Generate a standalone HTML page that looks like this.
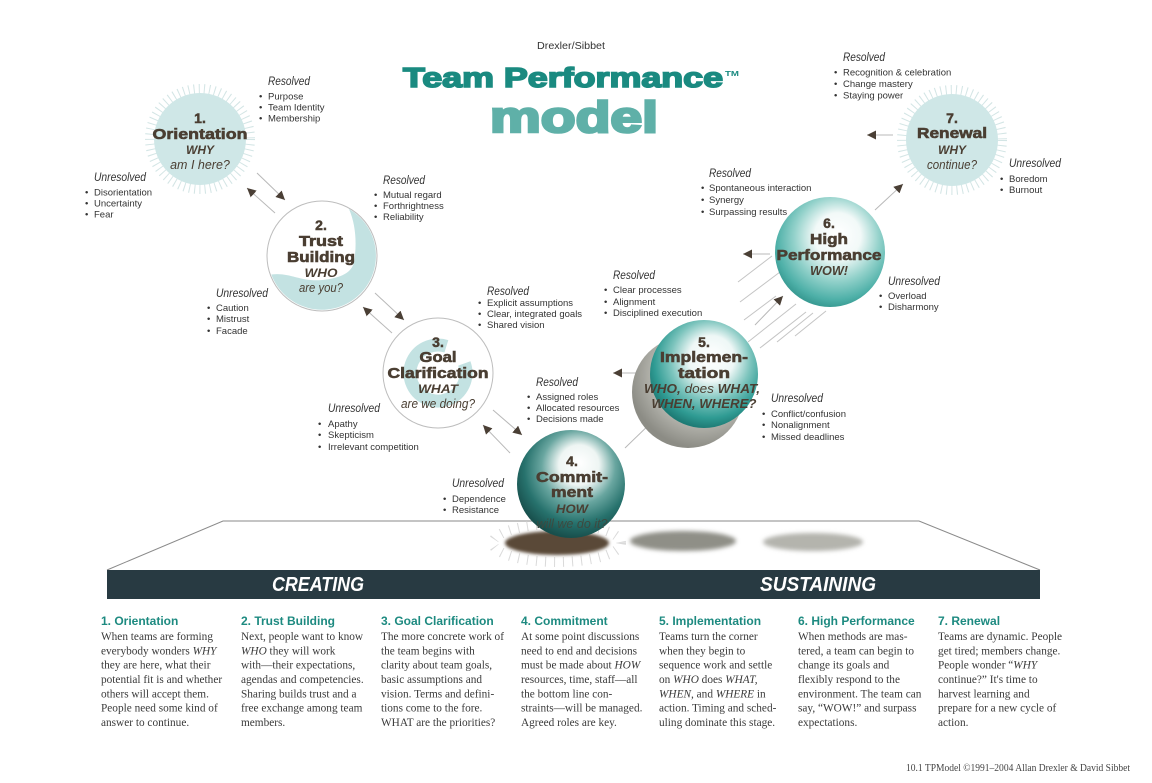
<!DOCTYPE html>
<html><head><meta charset="utf-8"><style>
html,body{margin:0;padding:0;background:#fff;}
svg{display:block}
</style></head><body>
<svg width="1152" height="783" viewBox="0 0 1152 783" xmlns="http://www.w3.org/2000/svg" font-family="'Liberation Sans', sans-serif">
<defs>
 <marker id="ah" markerWidth="9" markerHeight="9" refX="9" refY="4.5" orient="auto" markerUnits="userSpaceOnUse">
  <path d="M0,0 L9,4.5 L0,9 z" fill="#4a3f35"/>
 </marker>
 <radialGradient id="gC" cx="0.56" cy="0.38" r="0.62" fx="0.58" fy="0.3">
  <stop offset="0" stop-color="#ffffff"/>
  <stop offset="0.3" stop-color="#eef5f3"/>
  <stop offset="0.55" stop-color="#69a6a0"/>
  <stop offset="0.8" stop-color="#27726d"/>
  <stop offset="1" stop-color="#184f4c"/>
 </radialGradient>
 <radialGradient id="gI" cx="0.55" cy="0.4" r="0.6" fx="0.58" fy="0.33">
  <stop offset="0" stop-color="#ffffff"/>
  <stop offset="0.35" stop-color="#eef7f6"/>
  <stop offset="0.62" stop-color="#7cc4bd"/>
  <stop offset="0.86" stop-color="#2f9b93"/>
  <stop offset="1" stop-color="#1e7b75"/>
 </radialGradient>
 <radialGradient id="gH" cx="0.55" cy="0.4" r="0.6" fx="0.58" fy="0.33">
  <stop offset="0" stop-color="#ffffff"/>
  <stop offset="0.35" stop-color="#f2f9f8"/>
  <stop offset="0.65" stop-color="#92d1ca"/>
  <stop offset="0.9" stop-color="#4eb0a8"/>
  <stop offset="1" stop-color="#3a9c94"/>
 </radialGradient>
 <radialGradient id="gS" cx="0.62" cy="0.35" r="0.65">
  <stop offset="0" stop-color="#f2f2ee"/>
  <stop offset="0.5" stop-color="#c9c9c2"/>
  <stop offset="1" stop-color="#8c8c85"/>
 </radialGradient>
 <filter id="bl" x="-20%" y="-50%" width="140%" height="200%"><feGaussianBlur stdDeviation="1.6"/></filter>
 <filter id="bl2" x="-20%" y="-50%" width="140%" height="200%"><feGaussianBlur stdDeviation="2.2"/></filter>
</defs>

<!-- Title -->
<text x="571" y="49" font-size="10.5" fill="#333" text-anchor="middle" textLength="68" lengthAdjust="spacingAndGlyphs">Drexler/Sibbet</text>
<text x="403" y="87" font-size="28" font-weight="bold" fill="#1a8a80" stroke="#1a8a80" stroke-width="1.6" textLength="320" lengthAdjust="spacingAndGlyphs">Team Performance</text>
<text x="725" y="76" font-size="7.5" font-weight="bold" fill="#1a8a80" textLength="14" lengthAdjust="spacingAndGlyphs">TM</text>
<text x="490" y="132" font-size="44" font-weight="bold" fill="#5fb0a8" stroke="#5fb0a8" stroke-width="2.6" textLength="168" lengthAdjust="spacingAndGlyphs">model</text>

<!-- Platform -->
<polyline points="107,570 223,521 919,521 1040,570" fill="none" stroke="#8a8a8a" stroke-width="1"/>
<rect x="107" y="570" width="933" height="29" fill="#283a42"/>
<text x="318" y="591" font-size="20" font-weight="bold" font-style="italic" fill="#fff" text-anchor="middle" textLength="92" lengthAdjust="spacingAndGlyphs">CREATING</text>
<text x="818" y="591" font-size="20" font-weight="bold" font-style="italic" fill="#fff" text-anchor="middle" textLength="116" lengthAdjust="spacingAndGlyphs">SUSTAINING</text>

<!-- shadows on platform -->
<ellipse cx="557" cy="543" rx="64" ry="19" fill="none" stroke="#dadada" stroke-width="10" stroke-dasharray="1 8"/>
<ellipse cx="557" cy="543" rx="52" ry="12" fill="#5a4838" filter="url(#bl)"/>
<ellipse cx="683" cy="541" rx="53" ry="10" fill="#8f8f87" filter="url(#bl2)"/>
<ellipse cx="813" cy="542" rx="50" ry="9" fill="#b4b4ad" filter="url(#bl2)"/>

<!-- speed lines -->
<g stroke="#c4c4c4" stroke-width="1">
 <line x1="738" y1="282" x2="772" y2="256"/>
 <line x1="740" y1="302" x2="780" y2="272"/>
 <line x1="744" y1="320" x2="776" y2="296"/>
 <line x1="748" y1="342" x2="796" y2="304"/>
 <line x1="760" y1="348" x2="806" y2="312"/>
 <line x1="777" y1="342" x2="813" y2="313"/>
 <line x1="795" y1="336" x2="826" y2="311"/>
</g>

<!-- arrows -->
<g stroke="#b8b8b8" stroke-width="1" marker-end="url(#ah)">
 <line x1="257" y1="173" x2="285" y2="200"/>
 <line x1="275" y1="213" x2="247" y2="188"/>
 <line x1="375" y1="293" x2="404" y2="320"/>
 <line x1="392" y1="333" x2="363" y2="307"/>
 <line x1="493" y1="410" x2="522" y2="435"/>
 <line x1="510" y1="453" x2="483" y2="425"/>
 <line x1="625" y1="448" x2="655" y2="419"/>
 <line x1="642" y1="373" x2="613" y2="373"/>
 <line x1="755" y1="325" x2="783" y2="296"/>
 <line x1="770" y1="254" x2="743" y2="254"/>
 <line x1="875" y1="210" x2="903" y2="184"/>
 <line x1="893" y1="135" x2="867" y2="135"/>
</g>

<!-- 1 Orientation -->
<circle cx="200" cy="139" r="50" fill="none" stroke="#d3e5e5" stroke-width="10" stroke-dasharray="1 4.2"/>
<circle cx="200" cy="139" r="46" fill="#cfe7e7"/>
<g fill="#4a3e32" text-anchor="middle" font-weight="bold">
 <text x="200" y="123" font-size="14" stroke="#4a3e32" stroke-width="0.5">1.</text>
 <text x="200" y="139" font-size="15" stroke="#4a3e32" stroke-width="0.6" textLength="95" lengthAdjust="spacingAndGlyphs">Orientation</text>
 <text x="200" y="154" font-size="12" font-style="italic">WHY</text>
 <text x="200" y="169" font-size="12.5" font-style="italic" font-weight="normal">am I here?</text>
</g>

<!-- 2 Trust -->
<circle cx="322" cy="256" r="55" fill="#fff" stroke="#bdbdbd" stroke-width="1"/>
<path d="M349,209 A54,54 0 1,1 271.3,274.5 C290,272 300,282 322,280 C342,278 352,272 354,262 C357,245 356,225 349,209 Z" fill="#c3e2e2"/>
<g fill="#4a3e32" text-anchor="middle" font-weight="bold">
 <text x="321" y="230" font-size="14" stroke="#4a3e32" stroke-width="0.5">2.</text>
 <text x="321" y="246" font-size="15" stroke="#4a3e32" stroke-width="0.6" textLength="44" lengthAdjust="spacingAndGlyphs">Trust</text>
 <text x="321" y="262" font-size="15" stroke="#4a3e32" stroke-width="0.6" textLength="68" lengthAdjust="spacingAndGlyphs">Building</text>
 <text x="321" y="277" font-size="12" font-style="italic" textLength="33" lengthAdjust="spacingAndGlyphs">WHO</text>
 <text x="321" y="292" font-size="13" font-style="italic" font-weight="normal" textLength="44" lengthAdjust="spacingAndGlyphs">are you?</text>
</g>

<!-- 3 Goal -->
<circle cx="438" cy="373" r="55" fill="#fff" stroke="#bdbdbd" stroke-width="1"/>
<circle cx="438" cy="373" r="28" fill="none" stroke="#c3e2e2" stroke-width="13" stroke-dasharray="150 26" transform="rotate(-20 438 373)"/>
<g fill="#4a3e32" text-anchor="middle" font-weight="bold">
 <text x="438" y="347" font-size="14" stroke="#4a3e32" stroke-width="0.5">3.</text>
 <text x="438" y="362" font-size="15" stroke="#4a3e32" stroke-width="0.6" textLength="37" lengthAdjust="spacingAndGlyphs">Goal</text>
 <text x="438" y="378" font-size="15" stroke="#4a3e32" stroke-width="0.6" textLength="101" lengthAdjust="spacingAndGlyphs">Clarification</text>
 <text x="438" y="393" font-size="12" font-style="italic" textLength="40" lengthAdjust="spacingAndGlyphs">WHAT</text>
 <text x="438" y="408" font-size="13" font-style="italic" font-weight="normal" textLength="74" lengthAdjust="spacingAndGlyphs">are we doing?</text>
</g>

<!-- 4 Commitment -->
<circle cx="571" cy="484" r="54" fill="url(#gC)"/>
<g fill="#4a3e32" text-anchor="middle" font-weight="bold">
 <text x="572" y="466" font-size="14" stroke="#4a3e32" stroke-width="0.5">4.</text>
 <text x="572" y="482" font-size="15" stroke="#4a3e32" stroke-width="0.6" textLength="72" lengthAdjust="spacingAndGlyphs">Commit-</text>
 <text x="572" y="497" font-size="15" stroke="#4a3e32" stroke-width="0.6" textLength="42" lengthAdjust="spacingAndGlyphs">ment</text>
 <text x="572" y="513" font-size="12" font-style="italic" textLength="32" lengthAdjust="spacingAndGlyphs">HOW</text>
 <text x="572" y="528" font-size="13" font-style="italic" font-weight="normal" fill="#3d4a40" textLength="71" lengthAdjust="spacingAndGlyphs">will we do it?</text>
</g>

<!-- 5 Implementation -->
<circle cx="688" cy="392" r="56" fill="url(#gS)"/>
<circle cx="704" cy="374" r="54" fill="url(#gI)"/>
<g fill="#4a3e32" text-anchor="middle" font-weight="bold">
 <text x="704" y="347" font-size="14" stroke="#4a3e32" stroke-width="0.5">5.</text>
 <text x="704" y="362" font-size="15" stroke="#4a3e32" stroke-width="0.6" textLength="88" lengthAdjust="spacingAndGlyphs">Implemen-</text>
 <text x="704" y="378" font-size="15" stroke="#4a3e32" stroke-width="0.6" textLength="52" lengthAdjust="spacingAndGlyphs">tation</text>
 <text x="702" y="393" font-size="12.5" font-style="italic" textLength="116" lengthAdjust="spacingAndGlyphs">WHO,<tspan font-weight="normal"> does </tspan>WHAT,</text>
 <text x="704" y="408" font-size="12.5" font-style="italic" textLength="105" lengthAdjust="spacingAndGlyphs">WHEN, WHERE?</text>
</g>

<!-- 6 High Performance -->
<circle cx="830" cy="252" r="55" fill="url(#gH)"/>
<g fill="#4a3e32" text-anchor="middle" font-weight="bold">
 <text x="829" y="228" font-size="14" stroke="#4a3e32" stroke-width="0.5">6.</text>
 <text x="829" y="244" font-size="15" stroke="#4a3e32" stroke-width="0.6" textLength="38" lengthAdjust="spacingAndGlyphs">High</text>
 <text x="829" y="260" font-size="15" stroke="#4a3e32" stroke-width="0.6" textLength="105" lengthAdjust="spacingAndGlyphs">Performance</text>
 <text x="829" y="275" font-size="12.5" font-style="italic" textLength="38" lengthAdjust="spacingAndGlyphs">WOW!</text>
</g>

<!-- 7 Renewal -->
<circle cx="952" cy="140" r="50" fill="none" stroke="#d3e5e5" stroke-width="10" stroke-dasharray="1 4.2"/>
<circle cx="952" cy="140" r="46" fill="#cfe7e7"/>
<g fill="#4a3e32" text-anchor="middle" font-weight="bold">
 <text x="952" y="123" font-size="14" stroke="#4a3e32" stroke-width="0.5">7.</text>
 <text x="952" y="138" font-size="15" stroke="#4a3e32" stroke-width="0.6" textLength="70" lengthAdjust="spacingAndGlyphs">Renewal</text>
 <text x="952" y="154" font-size="12" font-style="italic">WHY</text>
 <text x="952" y="169" font-size="12.5" font-style="italic" font-weight="normal" textLength="50" lengthAdjust="spacingAndGlyphs">continue?</text>
</g>

<!-- Resolved / Unresolved lists -->
<g fill="#333" font-size="9.5">
 <text x="268" y="85" font-size="11.5" font-style="italic" textLength="42" lengthAdjust="spacingAndGlyphs">Resolved</text>
 <text x="259" y="99.5">•</text><text x="268" y="99.5">Purpose</text>
 <text x="259" y="110.5">•</text><text x="268" y="110.5">Team Identity</text>
 <text x="259" y="121.5">•</text><text x="268" y="121.5">Membership</text>
 <text x="94" y="181" font-size="11.5" font-style="italic" textLength="52" lengthAdjust="spacingAndGlyphs">Unresolved</text>
 <text x="85" y="195.5">•</text><text x="94" y="195.5">Disorientation</text>
 <text x="85" y="206.5">•</text><text x="94" y="206.5">Uncertainty</text>
 <text x="85" y="217.5">•</text><text x="94" y="217.5">Fear</text>

 <text x="383" y="184" font-size="11.5" font-style="italic" textLength="42" lengthAdjust="spacingAndGlyphs">Resolved</text>
 <text x="374" y="198">•</text><text x="383" y="198">Mutual regard</text>
 <text x="374" y="209">•</text><text x="383" y="209">Forthrightness</text>
 <text x="374" y="220">•</text><text x="383" y="220">Reliability</text>
 <text x="216" y="297" font-size="11.5" font-style="italic" textLength="52" lengthAdjust="spacingAndGlyphs">Unresolved</text>
 <text x="207" y="311">•</text><text x="216" y="311">Caution</text>
 <text x="207" y="322">•</text><text x="216" y="322">Mistrust</text>
 <text x="207" y="334">•</text><text x="216" y="334">Facade</text>

 <text x="487" y="295" font-size="11.5" font-style="italic" textLength="42" lengthAdjust="spacingAndGlyphs">Resolved</text>
 <text x="478" y="306">•</text><text x="487" y="306">Explicit assumptions</text>
 <text x="478" y="317">•</text><text x="487" y="317">Clear, integrated goals</text>
 <text x="478" y="328">•</text><text x="487" y="328">Shared vision</text>
 <text x="328" y="412" font-size="11.5" font-style="italic" textLength="52" lengthAdjust="spacingAndGlyphs">Unresolved</text>
 <text x="318" y="427">•</text><text x="328" y="427">Apathy</text>
 <text x="318" y="438">•</text><text x="328" y="438">Skepticism</text>
 <text x="318" y="450">•</text><text x="328" y="450">Irrelevant competition</text>

 <text x="536" y="386" font-size="11.5" font-style="italic" textLength="42" lengthAdjust="spacingAndGlyphs">Resolved</text>
 <text x="527" y="400">•</text><text x="536" y="400">Assigned roles</text>
 <text x="527" y="411">•</text><text x="536" y="411">Allocated resources</text>
 <text x="527" y="422">•</text><text x="536" y="422">Decisions made</text>
 <text x="452" y="487" font-size="11.5" font-style="italic" textLength="52" lengthAdjust="spacingAndGlyphs">Unresolved</text>
 <text x="443" y="502">•</text><text x="452" y="502">Dependence</text>
 <text x="443" y="513">•</text><text x="452" y="513">Resistance</text>

 <text x="613" y="279" font-size="11.5" font-style="italic" textLength="42" lengthAdjust="spacingAndGlyphs">Resolved</text>
 <text x="604" y="293">•</text><text x="613" y="293">Clear processes</text>
 <text x="604" y="305">•</text><text x="613" y="305">Alignment</text>
 <text x="604" y="316">•</text><text x="613" y="316">Disciplined execution</text>
 <text x="771" y="402" font-size="11.5" font-style="italic" textLength="52" lengthAdjust="spacingAndGlyphs">Unresolved</text>
 <text x="762" y="417">•</text><text x="771" y="417">Conflict/confusion</text>
 <text x="762" y="428">•</text><text x="771" y="428">Nonalignment</text>
 <text x="762" y="440">•</text><text x="771" y="440">Missed deadlines</text>

 <text x="709" y="177" font-size="11.5" font-style="italic" textLength="42" lengthAdjust="spacingAndGlyphs">Resolved</text>
 <text x="701" y="191">•</text><text x="709" y="191">Spontaneous interaction</text>
 <text x="701" y="203">•</text><text x="709" y="203">Synergy</text>
 <text x="701" y="215">•</text><text x="709" y="215">Surpassing results</text>
 <text x="888" y="285" font-size="11.5" font-style="italic" textLength="52" lengthAdjust="spacingAndGlyphs">Unresolved</text>
 <text x="879" y="299">•</text><text x="888" y="299">Overload</text>
 <text x="879" y="310">•</text><text x="888" y="310">Disharmony</text>

 <text x="843" y="61" font-size="11.5" font-style="italic" textLength="42" lengthAdjust="spacingAndGlyphs">Resolved</text>
 <text x="834" y="75.5">•</text><text x="843" y="75.5">Recognition &amp; celebration</text>
 <text x="834" y="87">•</text><text x="843" y="87">Change mastery</text>
 <text x="834" y="98.5">•</text><text x="843" y="98.5">Staying power</text>
 <text x="1009" y="167" font-size="11.5" font-style="italic" textLength="52" lengthAdjust="spacingAndGlyphs">Unresolved</text>
 <text x="1000" y="182">•</text><text x="1009" y="182">Boredom</text>
 <text x="1000" y="193">•</text><text x="1009" y="193">Burnout</text>
</g>

<!-- Bottom columns -->
<g font-size="12" font-weight="bold" fill="#1d8a80">
 <text x="101" y="625">1. Orientation</text>
 <text x="241" y="625">2. Trust Building</text>
 <text x="381" y="625">3. Goal Clarification</text>
 <text x="521" y="625">4. Commitment</text>
 <text x="659" y="625">5. Implementation</text>
 <text x="798" y="625">6. High Performance</text>
 <text x="938" y="625">7. Renewal</text>
</g>
<g font-family="'Liberation Serif', serif" font-size="11.3" fill="#3a3a3a">
 <text x="101" y="640">When teams are forming</text>
 <text x="101" y="654.3">everybody wonders <tspan font-style="italic">WHY</tspan></text>
 <text x="101" y="668.6">they are here, what their</text>
 <text x="101" y="683">potential fit is and whether</text>
 <text x="101" y="697.3">others will accept them.</text>
 <text x="101" y="711.6">People need some kind of</text>
 <text x="101" y="726">answer to continue.</text>

 <text x="241" y="640">Next, people want to know</text>
 <text x="241" y="654.3"><tspan font-style="italic">WHO</tspan> they will work</text>
 <text x="241" y="668.6">with—their expectations,</text>
 <text x="241" y="683">agendas and competencies.</text>
 <text x="241" y="697.3">Sharing builds trust and a</text>
 <text x="241" y="711.6">free exchange among team</text>
 <text x="241" y="726">members.</text>

 <text x="381" y="640">The more concrete work of</text>
 <text x="381" y="654.3">the team begins with</text>
 <text x="381" y="668.6">clarity about team goals,</text>
 <text x="381" y="683">basic assumptions and</text>
 <text x="381" y="697.3">vision. Terms and defini-</text>
 <text x="381" y="711.6">tions come to the fore.</text>
 <text x="381" y="726">WHAT are the priorities?</text>

 <text x="521" y="640">At some point discussions</text>
 <text x="521" y="654.3">need to end and decisions</text>
 <text x="521" y="668.6">must be made about <tspan font-style="italic">HOW</tspan></text>
 <text x="521" y="683">resources, time, staff—all</text>
 <text x="521" y="697.3">the bottom line con-</text>
 <text x="521" y="711.6">straints—will be managed.</text>
 <text x="521" y="726">Agreed roles are key.</text>

 <text x="659" y="640">Teams turn the corner</text>
 <text x="659" y="654.3">when they begin to</text>
 <text x="659" y="668.6">sequence work and settle</text>
 <text x="659" y="683">on <tspan font-style="italic">WHO</tspan> does <tspan font-style="italic">WHAT,</tspan></text>
 <text x="659" y="697.3"><tspan font-style="italic">WHEN,</tspan> and <tspan font-style="italic">WHERE</tspan> in</text>
 <text x="659" y="711.6">action. Timing and sched-</text>
 <text x="659" y="726">uling dominate this stage.</text>

 <text x="798" y="640">When methods are mas-</text>
 <text x="798" y="654.3">tered, a team can begin to</text>
 <text x="798" y="668.6">change its goals and</text>
 <text x="798" y="683">flexibly respond to the</text>
 <text x="798" y="697.3">environment. The team can</text>
 <text x="798" y="711.6">say, “WOW!” and surpass</text>
 <text x="798" y="726">expectations.</text>

 <text x="938" y="640">Teams are dynamic. People</text>
 <text x="938" y="654.3">get tired; members change.</text>
 <text x="938" y="668.6">People wonder “<tspan font-style="italic">WHY</tspan></text>
 <text x="938" y="683">continue?” It's time to</text>
 <text x="938" y="697.3">harvest learning and</text>
 <text x="938" y="711.6">prepare for a new cycle of</text>
 <text x="938" y="726">action.</text>

 <text x="906" y="771" font-size="10" fill="#444" textLength="224" lengthAdjust="spacingAndGlyphs">10.1 TPModel ©1991–2004 Allan Drexler &amp; David Sibbet</text>
</g>
</svg>
</body></html>
